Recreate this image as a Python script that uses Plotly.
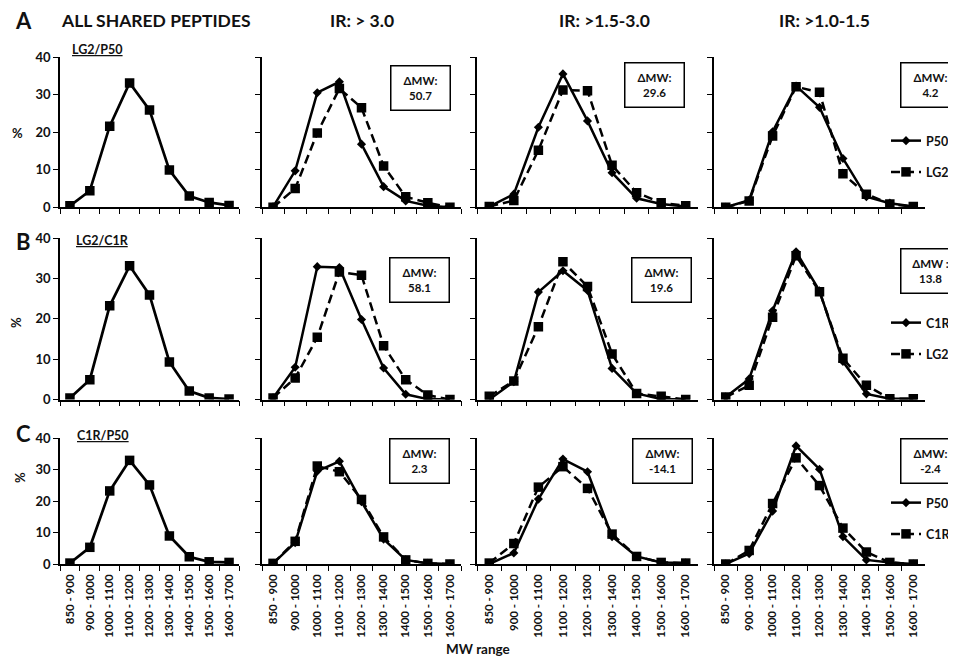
import plotly.graph_objects as go
from plotly.subplots import make_subplots

W, H = 956, 660
OFF = 8  # page body margin offset
FONT = "Lato"

categories = ["850 - 900", "900 - 1000", "1000 - 1100", "1100 - 1200", "1200 - 1300",
              "1300 - 1400", "1400 - 1500", "1500 - 1600", "1600 - 1700"]

col_titles = ["ALL SHARED PEPTIDES", "IR: > 3.0", "IR: >1.5-3.0", "IR: >1.0-1.5"]
row_letters = ["A", "B", "C"]
row_pairs = ["LG2/P50", "LG2/C1R", "C1R/P50"]
row_solid_names = ["P50", "C1R", "P50"]
row_dash_names = ["LG2", "LG2", "C1R"]

# Row A: LG2 vs P50
a_all = [0.4, 4.4, 21.6, 33.1, 25.9, 9.9, 3.0, 1.3, 0.5]
a_ir3_p50 = [0.1, 9.7, 30.5, 33.4, 16.8, 5.5, 1.7, 0.4, 0.0]
a_ir3_lg2 = [0.0, 5.0, 19.8, 31.6, 26.5, 11.0, 2.8, 1.2, 0.0]
a_ir15_p50 = [0.2, 3.5, 21.3, 35.5, 23.0, 9.2, 2.4, 0.9, 0.2]
a_ir15_lg2 = [0.2, 1.8, 15.2, 31.2, 31.0, 11.2, 3.9, 1.2, 0.4]
a_ir10_p50 = [0.0, 1.9, 20.1, 32.3, 26.6, 13.0, 2.8, 1.1, 0.2]
a_ir10_lg2 = [0.0, 1.7, 19.0, 32.1, 30.6, 8.9, 3.5, 0.9, 0.2]

# Row B: LG2 vs C1R
b_all = [0.4, 4.9, 23.2, 33.1, 25.9, 9.3, 2.1, 0.4, 0.1]
b_ir3_c1r = [0.4, 8.0, 32.9, 32.7, 19.8, 7.8, 1.3, 0.1, 0.0]
b_ir3_lg2 = [0.4, 5.3, 15.4, 31.6, 30.8, 13.3, 4.9, 1.1, 0.0]
b_ir15_c1r = [0.0, 4.4, 26.6, 31.9, 27.0, 7.7, 1.5, 0.1, 0.0]
b_ir15_lg2 = [0.8, 4.6, 18.0, 34.1, 28.0, 11.3, 1.5, 0.8, 0.0]
b_ir10_c1r = [0.6, 5.1, 22.0, 36.6, 26.9, 9.4, 1.4, 0.2, 0.2]
b_ir10_lg2 = [0.6, 3.5, 20.4, 35.6, 26.7, 10.2, 3.5, 0.2, 0.2]

# Row C: C1R vs P50
c_all = [0.3, 5.3, 23.2, 32.9, 25.1, 8.9, 2.3, 0.7, 0.5]
c_ir3_p50 = [0.2, 6.8, 29.5, 32.6, 19.8, 7.9, 1.3, 0.2, 0.0]
c_ir3_c1r = [0.2, 7.2, 31.1, 29.3, 20.5, 8.6, 1.3, 0.2, 0.0]
c_ir15_p50 = [0.0, 3.5, 20.6, 33.3, 29.3, 8.7, 2.4, 0.5, 0.3]
c_ir15_c1r = [0.3, 6.5, 24.4, 30.9, 24.0, 9.5, 2.4, 0.5, 0.3]
c_ir10_p50 = [0.0, 3.3, 16.8, 37.5, 30.1, 8.7, 1.3, 0.5, 0.0]
c_ir10_c1r = [0.0, 4.3, 19.2, 33.7, 24.9, 11.4, 3.8, 0.5, 0.0]

delta_mw = [["50.7", "29.6", "4.2"],
            ["58.1", "19.6", "13.8"],
            ["2.3", "-14.1", "-2.4"]]
delta_label = [["ΔMW:", "ΔMW:", "ΔMW:"],
               ["ΔMW:", "ΔMW:", "ΔMW :"],
               ["ΔMW:", "ΔMW:", "ΔMW:"]]

all_series = [a_all, b_all, c_all]
solid_series = [[a_ir3_p50, a_ir15_p50, a_ir10_p50],
                [b_ir3_c1r, b_ir15_c1r, b_ir10_c1r],
                [c_ir3_p50, c_ir15_p50, c_ir10_p50]]
dash_series = [[a_ir3_lg2, a_ir15_lg2, a_ir10_lg2],
               [b_ir3_lg2, b_ir15_lg2, b_ir10_lg2],
               [c_ir3_c1r, c_ir15_c1r, c_ir10_c1r]]

# layout geometry in page pixels
col_px = [(60, 239), (262, 461), (477, 698), (714, 925)]
row_px = [(57, 207.3), (238, 399.5), (438, 564)]


def px(x):
    return (x - OFF) / W


def py(y):
    return 1 - (y - OFF) / H


fig = make_subplots(rows=3, cols=4)

legend_names = ["legend", "legend2", "legend3"]
BLACK = "#000000"
TXT = "#111111"

for r in range(3):
    fig.add_trace(go.Scatter(
        x=categories, y=all_series[r], mode="lines+markers",
        line=dict(color=BLACK, width=2.7),
        marker=dict(symbol="square", size=9.5, color=BLACK),
        showlegend=False, name="all"), row=r + 1, col=1)
    for c in range(3):
        show = (c == 2)
        fig.add_trace(go.Scatter(
            x=categories, y=solid_series[r][c], mode="lines+markers",
            line=dict(color=BLACK, width=2.5),
            marker=dict(symbol="diamond", size=7, color=BLACK),
            name=row_solid_names[r], legend=legend_names[r],
            legendgroup=f"s{r}", showlegend=show), row=r + 1, col=c + 2)
        fig.add_trace(go.Scatter(
            x=categories, y=dash_series[r][c], mode="lines+markers",
            line=dict(color=BLACK, width=2.5, dash="9px,5px"),
            marker=dict(symbol="square", size=9.5, color=BLACK),
            name=row_dash_names[r], legend=legend_names[r],
            legendgroup=f"d{r}", showlegend=show), row=r + 1, col=c + 2)

for r in range(3):
    for c in range(4):
        x0, x1 = col_px[c]
        y0, y1 = row_px[r]
        fig.update_xaxes(
            domain=[px(x0), px(x1)], type="category", range=[-0.5, 8.5],
            automargin=False,
            showline=True, linecolor=BLACK, linewidth=1.6,
            ticks="outside", tickson="boundaries", ticklen=5, tickwidth=1.4,
            tickcolor=BLACK, showgrid=False, zeroline=False,
            showticklabels=(r == 2), tickangle=-90, ticklabelstandoff=4,
            tickfont=dict(family=FONT, size=11.5, color=TXT, weight="bold"),
            row=r + 1, col=c + 1)
        fig.update_yaxes(
            domain=[py(y1), py(y0)], range=[0, 40], tickvals=[0, 10, 20, 30, 40],
            automargin=False,
            showline=True, linecolor=BLACK, linewidth=1.6,
            ticks="outside", ticklen=5, tickwidth=1.4, tickcolor=BLACK,
            showgrid=False, zeroline=False, showticklabels=(c == 0),
            tickfont=dict(family=FONT, size=13, color=TXT, weight="bold"),
            row=r + 1, col=c + 1)

ann = []


def add_text(x, y, text, size, angle=0, **kw):
    ann.append(dict(x=px(x), y=py(y), xref="paper", yref="paper", text=text,
                    xanchor="center", yanchor="middle", showarrow=False,
                    textangle=angle, font=dict(family=FONT, size=size, color=TXT), **kw))


title_x = [156, 362, 604, 824]
for c in range(4):
    add_text(title_x[c], 21, f"<b>{col_titles[c]}</b>", 17.5)
letter_y = [20, 241, 433]
for r in range(3):
    add_text(24, letter_y[r], f"<b>{row_letters[r]}</b>", 22)
pair_xy = [(97, 49), (102, 240), (103, 435)]
for r in range(3):
    add_text(pair_xy[r][0], pair_xy[r][1], f"<b><u>{row_pairs[r]}</u></b>", 12.5)
add_text(17, 133, "<b>%</b>", 13)
add_text(16, 322, "<b>%</b>", 13, angle=-90)
add_text(20, 478, "<b>%</b>", 13, angle=-90)
add_text(478, 649, "<b>MW range</b>", 13.5)

box_xy = [[(420, 88), (654, 85), (930, 85)],
          [(419, 280), (661, 280), (930, 271)],
          [(419, 461), (662, 461), (930, 461)]]
for r in range(3):
    for c in range(3):
        bx, by = box_xy[r][c]
        add_text(bx, by, f"<b>{delta_label[r][c]}</b><br><b>{delta_mw[r][c]}</b>", 11.5,
                 align="center", width=48, height=33,
                 bordercolor=BLACK, borderwidth=1.5, borderpad=5, bgcolor="white")

leg_top = [126, 308, 488]
legend_cfg = {}
for r in range(3):
    legend_cfg[legend_names[r]] = dict(
        x=px(886), y=py(leg_top[r]), xref="container", yref="container",
        xanchor="left", yanchor="top",
        bgcolor="rgba(0,0,0,0)", borderwidth=0, tracegroupgap=12,
        traceorder="grouped", itemwidth=30,
        font=dict(family=FONT, size=12.5, color=TXT, weight="bold"))

fig.update_layout(
    width=W, height=H, margin=dict(l=0, r=0, t=0, b=0, autoexpand=False),
    paper_bgcolor="white", plot_bgcolor="white",
    annotations=ann, **legend_cfg,
    font=dict(family=FONT, color=TXT))

fig.write_html("out.html")
